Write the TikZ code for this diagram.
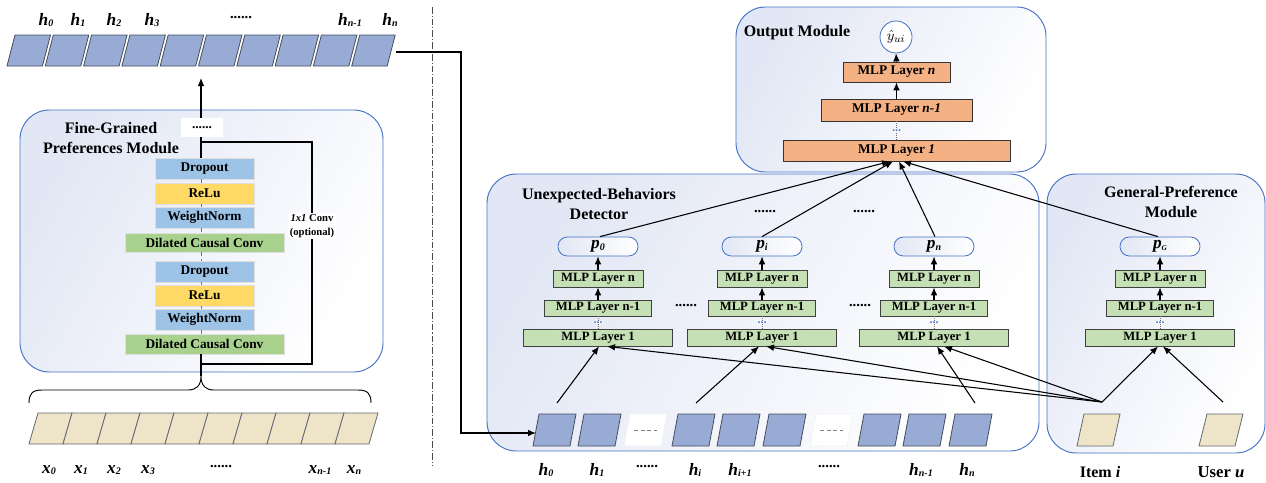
\documentclass[tikz,border=0pt]{standalone}
\usepackage{fontspec}
\setmainfont{Liberation Serif}
\usetikzlibrary{arrows.meta,calc}
\definecolor{hblue}{RGB}{151,171,213}
\definecolor{celledge}{RGB}{70,76,90}
\definecolor{beige}{RGB}{238,228,200}
\definecolor{modedge}{RGB}{68,114,196}
\definecolor{modfill}{RGB}{226,231,245}
\definecolor{lblue}{RGB}{157,195,230}
\definecolor{lyellow}{RGB}{255,217,102}
\definecolor{lgreen}{RGB}{169,209,142}
\definecolor{mgreen}{RGB}{197,224,180}
\definecolor{lorange}{RGB}{244,177,131}
\definecolor{dotblue}{RGB}{68,114,196}
\newcommand\pcell[6]{\draw[#6] (#1,#2) -- ({(#1)+(#4)},#2) -- ({(#1)+(#4)-(#5)},#3) -- ({(#1)-(#5)},#3) -- cycle;}
\newcommand\lab[3][7.5]{{\fontsize{13}{14}\selectfont\bfseries\itshape #2\raisebox{-0.2ex}{\fontsize{#1}{8}\selectfont #3}}}
\newcommand\bx[7]{\node[#2, minimum width={((#5)-(#3))*0.75pt}, minimum height={((#6)-(#4))*0.75pt}] (#1) at ({((#3)+(#5))/2},{((#4)+(#6))/2}) {#7};}
\begin{document}
\begin{tikzpicture}[x=0.75pt,y=-0.75pt,
  module/.style={draw=modedge, line width=0.7pt, rounded corners=22pt, shading=axis, left color=modfill, right color=white, shading angle=60},
  title/.style={font=\fontsize{12}{15}\selectfont\bfseries, align=center, inner sep=0pt},
  fgbox/.style={draw=gray!25, line width=0.5pt, inner sep=0pt, font=\fontsize{10}{12}\selectfont\bfseries},
  fgblue/.style={fgbox, fill=lblue},
  fgyellow/.style={fgbox, fill=lyellow},
  fggreen/.style={fgbox, fill=lgreen},
  obox/.style={draw=black!80, line width=0.6pt, fill=lorange, inner sep=0pt, font=\fontsize{10}{12}\selectfont\bfseries},
  mbox/.style={draw=black!75, line width=0.6pt, fill=mgreen, inner sep=0pt, font=\fontsize{9.5}{11}\selectfont\bfseries},
  pbox/.style={draw=modedge, line width=0.6pt, rounded corners=7pt, left color=modfill, right color=white, inner sep=0pt},
  hcell/.style={fill=hblue, draw=celledge, line width=0.6pt},
  xcell/.style={fill=beige, draw=celledge!85, line width=0.6pt},
  arr/.style={line width=0.8pt, -{Latex[length=6pt,width=5pt]}},
  conn/.style={line width=0.8pt},
  thinline/.style={line width=0.5pt, black!55, densely dashed},
  midots/.style={fill=white, text=dotblue, inner sep=0.6pt, font=\fontsize{9}{8}\selectfont\bfseries},
  bdots/.style={font=\fontsize{11}{11}\selectfont\bfseries, inner sep=0pt},
  lbl/.style={inner sep=0pt}
]
\useasboundingbox (0,0) rectangle (1266,482);

% ---------------- left part ----------------
\draw[module] (20,110) rectangle (383,372);
\node[title] (fgt) at (111,138) {Fine-Grained\\Preferences Module};

% top h row
\foreach \k in {0,...,9}{
  \pgfmathsetmacro\xx{15+38.3*\k}
  \pcell{\xx}{35}{66}{35.5}{8}{hcell}
}
\node[lbl] (th0) at (46,20) {\lab{h}{0}};
\node[lbl] (th1) at (78,20) {\lab{h}{1}};
\node[lbl] (th2) at (114,20) {\lab{h}{2}};
\node[lbl] (th3) at (152,20) {\lab{h}{3}};
\node[bdots] (thd) at (241,18) {......};
\node[lbl] (thn1) at (350,20) {\lab{h}{n-1}};
\node[lbl] (thn) at (390,20) {\lab{h}{n}};

% FG boxes
\bx{dots}{fill=white, inner sep=0pt, font=\bfseries}{181}{118}{223}{137}{......}
\bx{d1}{fgblue}{155}{158}{254}{179}{Dropout}
\bx{r1}{fgyellow}{155}{183}{254}{204}{ReLu}
\bx{w1}{fgblue}{155}{207}{254}{228}{WeightNorm}
\bx{c1}{fggreen}{125}{233}{284}{252}{Dilated Causal Conv}
\bx{d2}{fgblue}{155}{261}{254}{282}{Dropout}
\bx{r2}{fgyellow}{155}{285}{254}{306}{ReLu}
\bx{w2}{fgblue}{155}{309}{254}{330}{WeightNorm}
\bx{c2}{fggreen}{125}{334}{284}{354}{Dilated Causal Conv}

\coordinate (sp) at (201,0);
\coordinate (hup) at (201,78);
\coordinate (btip) at (201,376);
\coordinate (sk1) at (201,142);
\coordinate (sk2) at (312,364);
\coordinate (sk3) at (201,364);
\draw[arr] (dots.north -| sp) -- (hup);
\draw[conn] (dots.south -| sp) -- (d1.north -| sp);
\draw[thinline] (d1.south -| sp) -- (r1.north -| sp);
\draw[thinline] (r1.south -| sp) -- (w1.north -| sp);
\draw[thinline] (w1.south -| sp) -- (c1.north -| sp);
\draw[thinline] (c1.south -| sp) -- (d2.north -| sp);
\draw[thinline] (d2.south -| sp) -- (r2.north -| sp);
\draw[thinline] (r2.south -| sp) -- (w2.north -| sp);
\draw[thinline] (w2.south -| sp) -- (c2.north -| sp);
\draw[conn] (c2.south -| sp) -- (btip);
\draw[conn] (sk1) -| (sk2) -- (sk3);
\node[fill=white, inner sep=1pt, font=\fontsize{8}{10}\selectfont\bfseries, align=center] (skl) at (312,226) {\textit{1x1} Conv\\(optional)};

% brace
\draw[line width=0.7pt] (29,403) .. controls (29,394) and (32,390) .. (42,390) -- (188,390) .. controls (196,390) and (201,386) .. (btip) .. controls (201,386) and (206,390) .. (214,390) -- (358,390) .. controls (368,390) and (371,394) .. (371,403);

% bottom x row
\foreach \k in {0,...,9}{
  \pgfmathsetmacro\xx{38+34*\k}
  \pcell{\xx}{413}{444}{34}{9}{xcell}
}
\node[lbl] (bx0) at (49,470) {\lab{x}{0}};
\node[lbl] (bx1) at (81,470) {\lab{x}{1}};
\node[lbl] (bx2) at (114,470) {\lab{x}{2}};
\node[lbl] (bx3) at (148,470) {\lab{x}{3}};
\node[bdots] (bxd) at (221,467) {......};
\node[lbl] (bxn1) at (320,470) {\lab{x}{n-1}};
\node[lbl] (bxn) at (354,470) {\lab{x}{n}};

% separator
\draw[line width=0.6pt, black!70, dash pattern=on 5pt off 1.5pt on 0.8pt off 1.5pt] (432,7) -- (432,465);

% ---------------- right part ----------------
\draw[module] (736,7) rectangle (1046,172);
\draw[module] (487,174) rectangle (1039,451);
\draw[module] (1047,174) rectangle (1265,453);
\node[title] (omt) at (797,33) {Output Module};
\node[title] (ubt) at (599,204) {Unexpected-Behaviors\\Detector};
\node[title] (gpt) at (1171,202) {General-Preference\\Module};

% output module
\node[circle, draw=modedge, line width=0.6pt, fill=white, minimum size=24pt, inner sep=0pt] (yhat) at (896,37) {\fontsize{11}{11}\selectfont$\hat{y}_{ui}$};
\bx{omn}{obox}{843}{62}{950}{82}{MLP Layer \textit{n}}
\bx{omm}{obox}{821}{99}{972}{121}{MLP Layer \textit{n-1}}
\bx{oml}{obox}{783}{140}{1010}{161}{MLP Layer \textit{1}}
\draw[arr] (omn.north) -- (yhat.south);
\draw[arr] (omm.north) -- (omn.south);
\draw[thinline, densely dotted] (oml.north) -- (omm.south) node[midway, midots] (odots) {...};

% columns
\foreach \c/\x/\t in {a/598/{\lab{p}{0}}, b/762/{\lab{p}{i}}, c/934/{\lab{p}{n}}, g/1160/{\lab[5.5]{p}{G}}}{
  \bx{p\c}{pbox}{\x-40}{237}{\x+40}{256}{\t}
  \bx{n\c}{mbox}{\x-45}{270}{\x+45}{287}{MLP Layer n}
  \bx{m\c}{mbox}{\x-53.5}{300}{\x+53.5}{316}{MLP Layer n-1}
  \bx{l\c}{mbox}{\x-74.5}{329}{\x+74.5}{346}{MLP Layer 1}
  \draw[arr] (n\c.north) -- (p\c.south);
  \draw[arr] (m\c.north) -- (n\c.south);
  \draw[thinline, densely dotted] (l\c.north) -- (m\c.south) node[midway, midots] (dt\c) {...};
}
\node[bdots] (ud1) at (765,212) {......};
\node[bdots] (ud2) at (864,212) {......};
\node[bdots] (ud3) at (686,306) {......};
\node[bdots] (ud4) at (860,306) {......};

% bottom h row in detector
\foreach \xx in {539,584,678,723,769,864,909,955}{
  \pcell{\xx}{414}{446}{37}{6}{hcell}
}
\foreach \xx in {630,816}{
  \pcell{\xx}{414}{446}{37}{6}{draw=gray!12, fill=white}
  \draw[densely dashed, gray, line width=0.5pt] ({\xx+4},430) -- ({\xx+27},430);
}
\node[lbl] (bh0) at (546,470) {\lab{h}{0}};
\node[lbl] (bh1) at (597,470) {\lab{h}{1}};
\node[bdots] (bhd1) at (647,467) {......};
\node[lbl] (bhi) at (695,470) {\lab{h}{i}};
\node[lbl] (bhi1) at (740,470) {\lab{h}{i+1}};
\node[bdots] (bhd2) at (829,467) {......};
\node[lbl] (bhn1) at (921,470) {\lab{h}{n-1}};
\node[lbl] (bhn) at (967,470) {\lab{h}{n}};

% item / user
\pcell{1084}{414}{446}{36}{7}{xcell}
\pcell{1207}{414}{446}{36}{8}{xcell}
\node[lbl, font=\fontsize{12}{12}\selectfont\bfseries] (itl) at (1100,472) {Item \textit{i}};
\node[lbl, font=\fontsize{12.5}{12}\selectfont\bfseries] (usl) at (1221,472) {User \textit{u}};

% connector end points
\coordinate (hnout) at (396,52);
\coordinate (turn) at (461,240);
\coordinate (bh0w) at (536,433);
\coordinate (hA) at (557,403);
\coordinate (hB) at (696,403);
\coordinate (hC) at (975,403);
\coordinate (ipt) at (1102,402);
\coordinate (upt) at (1223,402);

\draw[arr, line width=1pt] (hnout) -| (turn) |- (bh0w);

\draw[arr] (hA) -- ($(la.south)+(1,0)$);
\draw[arr] (hB) -- ($(lb.south)+(-3,0)$);
\draw[arr] (hC) -- ($(lc.south)+(3,0)$);
\draw[arr] (ipt) -- ($(la.south)+(9,0)$);
\draw[arr] (ipt) -- ($(lb.south)+(4,0)$);
\draw[arr] (ipt) -- ($(lc.south)+(10,0)$);
\draw[arr] (ipt) -- ($(lg.south)+(-2,0)$);
\draw[arr] (upt) -- ($(lg.south)+(3,0)$);

\draw[arr] ($(pa.north)+(2,0)$) -- ($(oml.south)+(-6.5,0)$);
\draw[arr] ($(pb.north)+(0,0)$) -- ($(oml.south)+(-3.5,0)$);
\draw[arr] ($(pc.north)+(1,0)$) -- ($(oml.south)+(2.5,0)$);
\draw[arr] ($(pg.north)+(-2,0)$) -- ($(oml.south)+(6.5,0)$);
\end{tikzpicture}
\end{document}
